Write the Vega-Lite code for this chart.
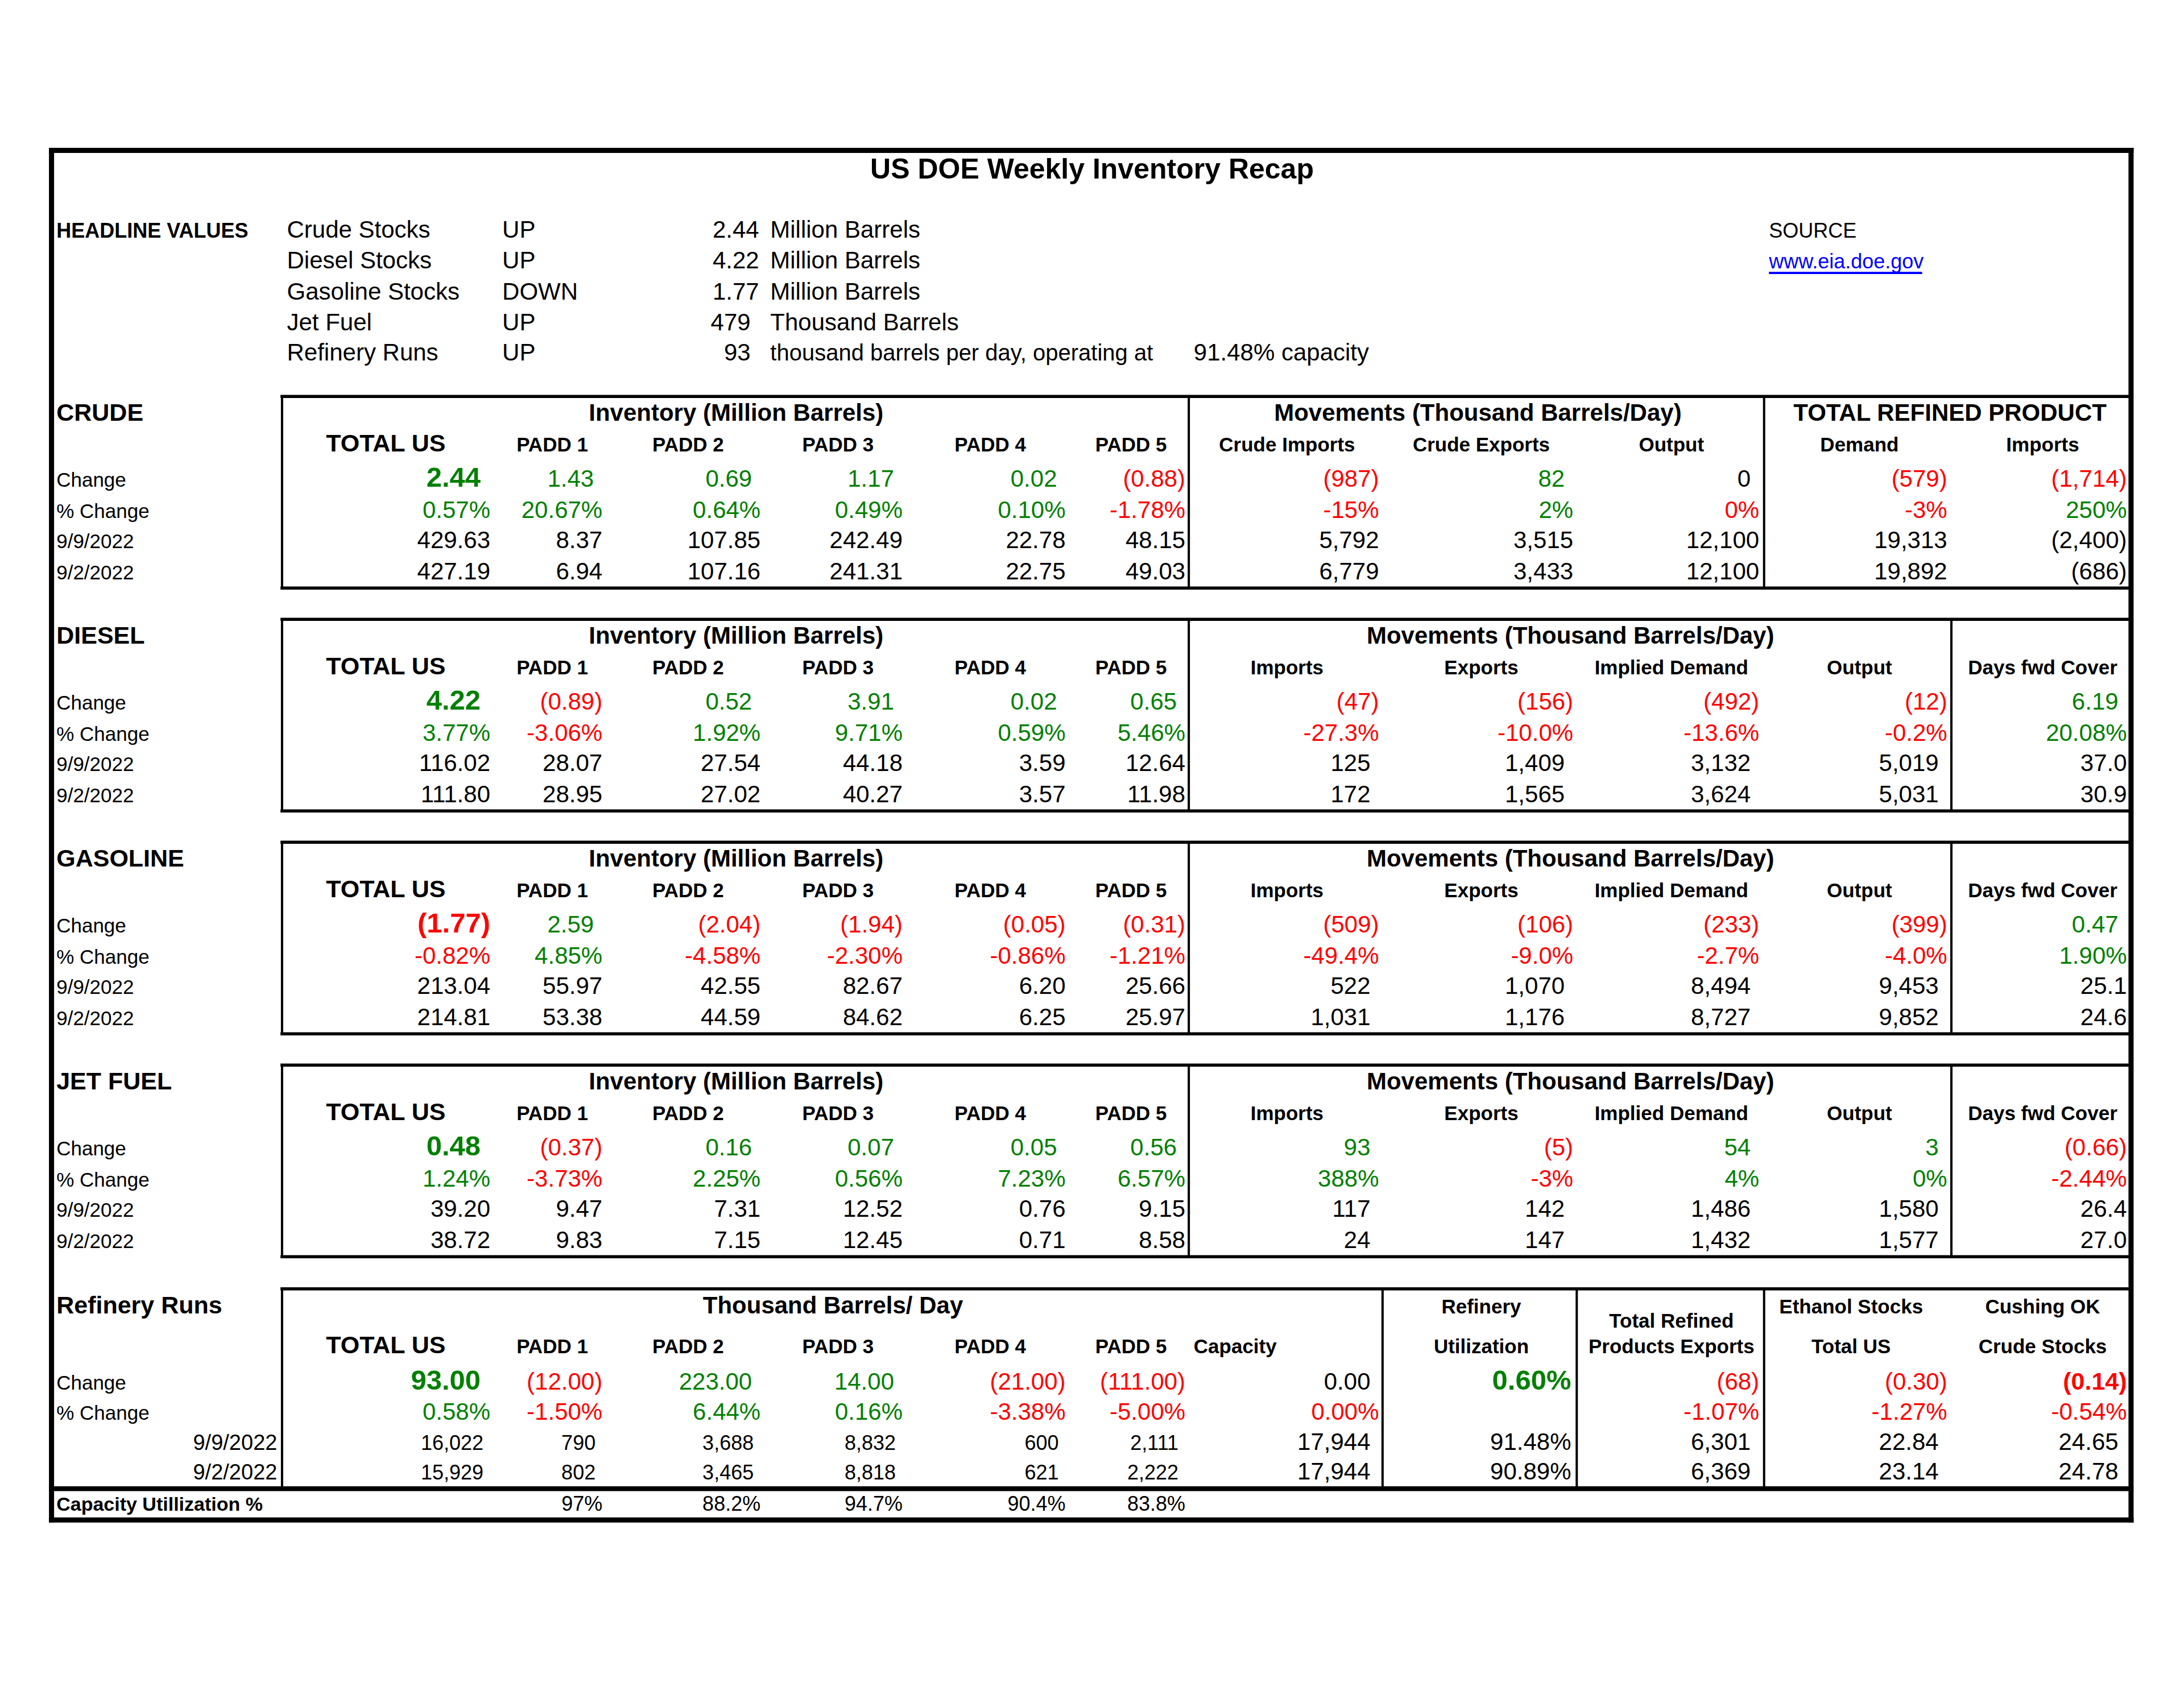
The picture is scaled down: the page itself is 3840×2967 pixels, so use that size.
{
"$schema": "https://vega.github.io/schema/vega-lite/v6.json",
"width": 3840, "height": 2967, "padding": 0, "autosize": {"type": "none"},
"background": "white",
"config": {"view": {"stroke": null}, "text": {"font": "Liberation Sans"}},
"datasets": {
"lines": [
{"x":0,"y":0,"x2":46,"y2":0,"kind":"frame"},
{"x":0,"y":50,"x2":46,"y2":50,"kind":"frame"},
{"x":0,"y":0,"x2":0,"y2":50,"kind":"frame"},
{"x":46,"y":0,"x2":46,"y2":50,"kind":"frame"},
{"x":3,"y":8,"x2":46,"y2":8,"kind":"box"},
{"x":3,"y":15,"x2":46,"y2":15,"kind":"box"},
{"x":3,"y":16,"x2":46,"y2":16,"kind":"box"},
{"x":3,"y":23,"x2":46,"y2":23,"kind":"box"},
{"x":3,"y":24,"x2":46,"y2":24,"kind":"box"},
{"x":3,"y":31,"x2":46,"y2":31,"kind":"box"},
{"x":3,"y":32,"x2":46,"y2":32,"kind":"box"},
{"x":3,"y":39,"x2":46,"y2":39,"kind":"box"},
{"x":3,"y":40,"x2":46,"y2":40,"kind":"box"},
{"x":3,"y":8,"x2":3,"y2":15,"kind":"div"},
{"x":23,"y":8,"x2":23,"y2":15,"kind":"div"},
{"x":36,"y":8,"x2":36,"y2":15,"kind":"div"},
{"x":3,"y":16,"x2":3,"y2":23,"kind":"div"},
{"x":23,"y":16,"x2":23,"y2":23,"kind":"div"},
{"x":43,"y":16,"x2":43,"y2":23,"kind":"div"},
{"x":3,"y":24,"x2":3,"y2":31,"kind":"div"},
{"x":23,"y":24,"x2":23,"y2":31,"kind":"div"},
{"x":43,"y":24,"x2":43,"y2":31,"kind":"div"},
{"x":3,"y":32,"x2":3,"y2":39,"kind":"div"},
{"x":23,"y":32,"x2":23,"y2":39,"kind":"div"},
{"x":43,"y":32,"x2":43,"y2":39,"kind":"div"},
{"x":3,"y":40,"x2":3,"y2":48,"kind":"div"},
{"x":27,"y":40,"x2":27,"y2":48,"kind":"div"},
{"x":33,"y":40,"x2":33,"y2":48,"kind":"div"},
{"x":36,"y":40,"x2":36,"y2":48,"kind":"div"},
{"x":0,"y":48,"x2":46,"y2":48,"kind":"base"},
{"x":37,"y":4,"x2":40,"y2":4,"kind":"link"}
],
"labs": [
{"x":20,"y":1,"t":"US DOE Weekly Inventory Recap","k":"title"},
{"x":1,"y":2,"t":"HEADLINE VALUES","k":"hv"},
{"x":4,"y":2,"t":"Crude Stocks","k":"hl"},
{"x":7,"y":2,"t":"UP","k":"hl"},
{"x":14,"y":2,"t":"Million Barrels","k":"hl"},
{"x":4,"y":3,"t":"Diesel Stocks","k":"hl"},
{"x":7,"y":3,"t":"UP","k":"hl"},
{"x":14,"y":3,"t":"Million Barrels","k":"hl"},
{"x":4,"y":5,"t":"Gasoline Stocks","k":"hl"},
{"x":7,"y":5,"t":"DOWN","k":"hl"},
{"x":14,"y":5,"t":"Million Barrels","k":"hl"},
{"x":4,"y":6,"t":"Jet Fuel","k":"hl"},
{"x":7,"y":6,"t":"UP","k":"hl"},
{"x":14,"y":6,"t":"Thousand Barrels","k":"hl"},
{"x":4,"y":7,"t":"Refinery Runs","k":"hl"},
{"x":7,"y":7,"t":"UP","k":"hl"},
{"x":14,"y":7,"t":"thousand barrels per day, operating at","k":"hls"},
{"x":24,"y":7,"t":"91.48% capacity","k":"hl"},
{"x":37,"y":2,"t":"SOURCE","k":"src"},
{"x":37,"y":3,"t":"www.eia.doe.gov","k":"link"},

{"x":1,"y":9,"t":"CRUDE","k":"sec"},
{"x":11,"y":9,"t":"Inventory (Million Barrels)","k":"grp"},
{"x":28,"y":9,"t":"Movements (Thousand Barrels/Day)","k":"grp"},
{"x":42,"y":9,"t":"TOTAL REFINED PRODUCT","k":"grp"},
{"x":5,"y":10,"t":"TOTAL US","k":"tu"},
{"x":8,"y":10,"t":"PADD 1","k":"ph"},
{"x":10,"y":10,"t":"PADD 2","k":"ph"},
{"x":16,"y":10,"t":"PADD 3","k":"ph"},
{"x":18,"y":10,"t":"PADD 4","k":"ph"},
{"x":21,"y":10,"t":"PADD 5","k":"ph"},
{"x":25,"y":10,"t":"Crude Imports","k":"ph"},
{"x":29,"y":10,"t":"Crude Exports","k":"ph"},
{"x":34,"y":10,"t":"Output","k":"ph"},
{"x":39,"y":10,"t":"Demand","k":"ph"},
{"x":44,"y":10,"t":"Imports","k":"ph"},
{"x":1,"y":11,"t":"Change","k":"lab"},
{"x":1,"y":12,"t":"% Change","k":"lab"},
{"x":1,"y":13,"t":"9/9/2022","k":"lab"},
{"x":1,"y":14,"t":"9/2/2022","k":"lab"},

{"x":1,"y":17,"t":"DIESEL","k":"sec"},
{"x":11,"y":17,"t":"Inventory (Million Barrels)","k":"grp"},
{"x":30,"y":17,"t":"Movements (Thousand Barrels/Day)","k":"grp"},
{"x":5,"y":18,"t":"TOTAL US","k":"tu"},
{"x":8,"y":18,"t":"PADD 1","k":"ph"},
{"x":10,"y":18,"t":"PADD 2","k":"ph"},
{"x":16,"y":18,"t":"PADD 3","k":"ph"},
{"x":18,"y":18,"t":"PADD 4","k":"ph"},
{"x":21,"y":18,"t":"PADD 5","k":"ph"},
{"x":25,"y":18,"t":"Imports","k":"ph"},
{"x":29,"y":18,"t":"Exports","k":"ph"},
{"x":34,"y":18,"t":"Implied Demand","k":"ph"},
{"x":39,"y":18,"t":"Output","k":"ph"},
{"x":44,"y":18,"t":"Days fwd Cover","k":"ph"},
{"x":1,"y":19,"t":"Change","k":"lab"},
{"x":1,"y":20,"t":"% Change","k":"lab"},
{"x":1,"y":21,"t":"9/9/2022","k":"lab"},
{"x":1,"y":22,"t":"9/2/2022","k":"lab"},

{"x":1,"y":25,"t":"GASOLINE","k":"sec"},
{"x":11,"y":25,"t":"Inventory (Million Barrels)","k":"grp"},
{"x":30,"y":25,"t":"Movements (Thousand Barrels/Day)","k":"grp"},
{"x":5,"y":26,"t":"TOTAL US","k":"tu"},
{"x":8,"y":26,"t":"PADD 1","k":"ph"},
{"x":10,"y":26,"t":"PADD 2","k":"ph"},
{"x":16,"y":26,"t":"PADD 3","k":"ph"},
{"x":18,"y":26,"t":"PADD 4","k":"ph"},
{"x":21,"y":26,"t":"PADD 5","k":"ph"},
{"x":25,"y":26,"t":"Imports","k":"ph"},
{"x":29,"y":26,"t":"Exports","k":"ph"},
{"x":34,"y":26,"t":"Implied Demand","k":"ph"},
{"x":39,"y":26,"t":"Output","k":"ph"},
{"x":44,"y":26,"t":"Days fwd Cover","k":"ph"},
{"x":1,"y":27,"t":"Change","k":"lab"},
{"x":1,"y":28,"t":"% Change","k":"lab"},
{"x":1,"y":29,"t":"9/9/2022","k":"lab"},
{"x":1,"y":30,"t":"9/2/2022","k":"lab"},

{"x":1,"y":33,"t":"JET FUEL","k":"sec"},
{"x":11,"y":33,"t":"Inventory (Million Barrels)","k":"grp"},
{"x":30,"y":33,"t":"Movements (Thousand Barrels/Day)","k":"grp"},
{"x":5,"y":34,"t":"TOTAL US","k":"tu"},
{"x":8,"y":34,"t":"PADD 1","k":"ph"},
{"x":10,"y":34,"t":"PADD 2","k":"ph"},
{"x":16,"y":34,"t":"PADD 3","k":"ph"},
{"x":18,"y":34,"t":"PADD 4","k":"ph"},
{"x":21,"y":34,"t":"PADD 5","k":"ph"},
{"x":25,"y":34,"t":"Imports","k":"ph"},
{"x":29,"y":34,"t":"Exports","k":"ph"},
{"x":34,"y":34,"t":"Implied Demand","k":"ph"},
{"x":39,"y":34,"t":"Output","k":"ph"},
{"x":44,"y":34,"t":"Days fwd Cover","k":"ph"},
{"x":1,"y":35,"t":"Change","k":"lab"},
{"x":1,"y":36,"t":"% Change","k":"lab"},
{"x":1,"y":37,"t":"9/9/2022","k":"lab"},
{"x":1,"y":38,"t":"9/2/2022","k":"lab"},

{"x":1,"y":41,"t":"Refinery Runs","k":"sec"},
{"x":15,"y":41,"t":"Thousand Barrels/ Day","k":"grp"},
{"x":29,"y":41,"t":"Refinery","k":"ph"},
{"x":29,"y":43,"t":"Utilization","k":"ph"},
{"x":34,"y":42,"t":"Total Refined","k":"ph"},
{"x":34,"y":43,"t":"Products Exports","k":"ph"},
{"x":38,"y":41,"t":"Ethanol Stocks","k":"ph"},
{"x":38,"y":43,"t":"Total US","k":"ph"},
{"x":44,"y":41,"t":"Cushing OK","k":"ph"},
{"x":44,"y":43,"t":"Crude Stocks","k":"ph"},
{"x":5,"y":43,"t":"TOTAL US","k":"tu"},
{"x":8,"y":43,"t":"PADD 1","k":"ph"},
{"x":10,"y":43,"t":"PADD 2","k":"ph"},
{"x":16,"y":43,"t":"PADD 3","k":"ph"},
{"x":18,"y":43,"t":"PADD 4","k":"ph"},
{"x":21,"y":43,"t":"PADD 5","k":"ph"},
{"x":24,"y":43,"t":"Capacity","k":"phl"},
{"x":1,"y":44,"t":"Change","k":"lab"},
{"x":1,"y":45,"t":"% Change","k":"lab"},
{"x":2,"y":46,"t":"9/9/2022","k":"dl"},
{"x":2,"y":47,"t":"9/2/2022","k":"dl"},
{"x":1,"y":49,"t":"Capacity Utillization %","k":"cu"}
],
"vals": [
{"x":12,"y":2,"t":"2.44","s":"neu","k":"n"},
{"x":12,"y":3,"t":"4.22","s":"neu","k":"n"},
{"x":12,"y":5,"t":"1.77","s":"neu","k":"n"},
{"x":12,"y":6,"t":"479","s":"neu","k":"na"},
{"x":12,"y":7,"t":"93","s":"neu","k":"na"},

{"x":6,"y":11,"t":"2.44","s":"pos","k":"ba"},
{"x":9,"y":11,"t":"1.43","s":"pos","k":"na"},
{"x":13,"y":11,"t":"0.69","s":"pos","k":"na"},
{"x":17,"y":11,"t":"1.17","s":"pos","k":"na"},
{"x":19,"y":11,"t":"0.02","s":"pos","k":"na"},
{"x":22,"y":11,"t":"(0.88)","s":"neg","k":"n"},
{"x":26,"y":11,"t":"(987)","s":"neg","k":"n"},
{"x":32,"y":11,"t":"82","s":"pos","k":"na"},
{"x":35,"y":11,"t":"0","s":"neu","k":"na"},
{"x":41,"y":11,"t":"(579)","s":"neg","k":"n"},
{"x":45,"y":11,"t":"(1,714)","s":"neg","k":"n"},
{"x":6,"y":12,"t":"0.57%","s":"pos","k":"n"},
{"x":9,"y":12,"t":"20.67%","s":"pos","k":"n"},
{"x":13,"y":12,"t":"0.64%","s":"pos","k":"n"},
{"x":17,"y":12,"t":"0.49%","s":"pos","k":"n"},
{"x":19,"y":12,"t":"0.10%","s":"pos","k":"n"},
{"x":22,"y":12,"t":"-1.78%","s":"neg","k":"n"},
{"x":26,"y":12,"t":"-15%","s":"neg","k":"n"},
{"x":32,"y":12,"t":"2%","s":"pos","k":"n"},
{"x":35,"y":12,"t":"0%","s":"neg","k":"n"},
{"x":41,"y":12,"t":"-3%","s":"neg","k":"n"},
{"x":45,"y":12,"t":"250%","s":"pos","k":"n"},
{"x":6,"y":13,"t":"429.63","s":"neu","k":"n"},
{"x":9,"y":13,"t":"8.37","s":"neu","k":"n"},
{"x":13,"y":13,"t":"107.85","s":"neu","k":"n"},
{"x":17,"y":13,"t":"242.49","s":"neu","k":"n"},
{"x":19,"y":13,"t":"22.78","s":"neu","k":"n"},
{"x":22,"y":13,"t":"48.15","s":"neu","k":"n"},
{"x":26,"y":13,"t":"5,792","s":"neu","k":"n"},
{"x":32,"y":13,"t":"3,515","s":"neu","k":"n"},
{"x":35,"y":13,"t":"12,100","s":"neu","k":"n"},
{"x":41,"y":13,"t":"19,313","s":"neu","k":"n"},
{"x":45,"y":13,"t":"(2,400)","s":"neu","k":"n"},
{"x":6,"y":14,"t":"427.19","s":"neu","k":"n"},
{"x":9,"y":14,"t":"6.94","s":"neu","k":"n"},
{"x":13,"y":14,"t":"107.16","s":"neu","k":"n"},
{"x":17,"y":14,"t":"241.31","s":"neu","k":"n"},
{"x":19,"y":14,"t":"22.75","s":"neu","k":"n"},
{"x":22,"y":14,"t":"49.03","s":"neu","k":"n"},
{"x":26,"y":14,"t":"6,779","s":"neu","k":"n"},
{"x":32,"y":14,"t":"3,433","s":"neu","k":"n"},
{"x":35,"y":14,"t":"12,100","s":"neu","k":"n"},
{"x":41,"y":14,"t":"19,892","s":"neu","k":"n"},
{"x":45,"y":14,"t":"(686)","s":"neu","k":"n"},

{"x":6,"y":19,"t":"4.22","s":"pos","k":"ba"},
{"x":9,"y":19,"t":"(0.89)","s":"neg","k":"n"},
{"x":13,"y":19,"t":"0.52","s":"pos","k":"na"},
{"x":17,"y":19,"t":"3.91","s":"pos","k":"na"},
{"x":19,"y":19,"t":"0.02","s":"pos","k":"na"},
{"x":22,"y":19,"t":"0.65","s":"pos","k":"na"},
{"x":26,"y":19,"t":"(47)","s":"neg","k":"n"},
{"x":32,"y":19,"t":"(156)","s":"neg","k":"n"},
{"x":35,"y":19,"t":"(492)","s":"neg","k":"n"},
{"x":41,"y":19,"t":"(12)","s":"neg","k":"n"},
{"x":45,"y":19,"t":"6.19","s":"pos","k":"na"},
{"x":6,"y":20,"t":"3.77%","s":"pos","k":"n"},
{"x":9,"y":20,"t":"-3.06%","s":"neg","k":"n"},
{"x":13,"y":20,"t":"1.92%","s":"pos","k":"n"},
{"x":17,"y":20,"t":"9.71%","s":"pos","k":"n"},
{"x":19,"y":20,"t":"0.59%","s":"pos","k":"n"},
{"x":22,"y":20,"t":"5.46%","s":"pos","k":"n"},
{"x":26,"y":20,"t":"-27.3%","s":"neg","k":"n"},
{"x":32,"y":20,"t":"-10.0%","s":"neg","k":"n"},
{"x":35,"y":20,"t":"-13.6%","s":"neg","k":"n"},
{"x":41,"y":20,"t":"-0.2%","s":"neg","k":"n"},
{"x":45,"y":20,"t":"20.08%","s":"pos","k":"n"},
{"x":6,"y":21,"t":"116.02","s":"neu","k":"n"},
{"x":9,"y":21,"t":"28.07","s":"neu","k":"n"},
{"x":13,"y":21,"t":"27.54","s":"neu","k":"n"},
{"x":17,"y":21,"t":"44.18","s":"neu","k":"n"},
{"x":19,"y":21,"t":"3.59","s":"neu","k":"n"},
{"x":22,"y":21,"t":"12.64","s":"neu","k":"n"},
{"x":26,"y":21,"t":"125","s":"neu","k":"na"},
{"x":32,"y":21,"t":"1,409","s":"neu","k":"na"},
{"x":35,"y":21,"t":"3,132","s":"neu","k":"na"},
{"x":41,"y":21,"t":"5,019","s":"neu","k":"na"},
{"x":45,"y":21,"t":"37.0","s":"neu","k":"n"},
{"x":6,"y":22,"t":"111.80","s":"neu","k":"n"},
{"x":9,"y":22,"t":"28.95","s":"neu","k":"n"},
{"x":13,"y":22,"t":"27.02","s":"neu","k":"n"},
{"x":17,"y":22,"t":"40.27","s":"neu","k":"n"},
{"x":19,"y":22,"t":"3.57","s":"neu","k":"n"},
{"x":22,"y":22,"t":"11.98","s":"neu","k":"n"},
{"x":26,"y":22,"t":"172","s":"neu","k":"na"},
{"x":32,"y":22,"t":"1,565","s":"neu","k":"na"},
{"x":35,"y":22,"t":"3,624","s":"neu","k":"na"},
{"x":41,"y":22,"t":"5,031","s":"neu","k":"na"},
{"x":45,"y":22,"t":"30.9","s":"neu","k":"n"},

{"x":6,"y":27,"t":"(1.77)","s":"neg","k":"b"},
{"x":9,"y":27,"t":"2.59","s":"pos","k":"na"},
{"x":13,"y":27,"t":"(2.04)","s":"neg","k":"n"},
{"x":17,"y":27,"t":"(1.94)","s":"neg","k":"n"},
{"x":19,"y":27,"t":"(0.05)","s":"neg","k":"n"},
{"x":22,"y":27,"t":"(0.31)","s":"neg","k":"n"},
{"x":26,"y":27,"t":"(509)","s":"neg","k":"n"},
{"x":32,"y":27,"t":"(106)","s":"neg","k":"n"},
{"x":35,"y":27,"t":"(233)","s":"neg","k":"n"},
{"x":41,"y":27,"t":"(399)","s":"neg","k":"n"},
{"x":45,"y":27,"t":"0.47","s":"pos","k":"na"},
{"x":6,"y":28,"t":"-0.82%","s":"neg","k":"n"},
{"x":9,"y":28,"t":"4.85%","s":"pos","k":"n"},
{"x":13,"y":28,"t":"-4.58%","s":"neg","k":"n"},
{"x":17,"y":28,"t":"-2.30%","s":"neg","k":"n"},
{"x":19,"y":28,"t":"-0.86%","s":"neg","k":"n"},
{"x":22,"y":28,"t":"-1.21%","s":"neg","k":"n"},
{"x":26,"y":28,"t":"-49.4%","s":"neg","k":"n"},
{"x":32,"y":28,"t":"-9.0%","s":"neg","k":"n"},
{"x":35,"y":28,"t":"-2.7%","s":"neg","k":"n"},
{"x":41,"y":28,"t":"-4.0%","s":"neg","k":"n"},
{"x":45,"y":28,"t":"1.90%","s":"pos","k":"n"},
{"x":6,"y":29,"t":"213.04","s":"neu","k":"n"},
{"x":9,"y":29,"t":"55.97","s":"neu","k":"n"},
{"x":13,"y":29,"t":"42.55","s":"neu","k":"n"},
{"x":17,"y":29,"t":"82.67","s":"neu","k":"n"},
{"x":19,"y":29,"t":"6.20","s":"neu","k":"n"},
{"x":22,"y":29,"t":"25.66","s":"neu","k":"n"},
{"x":26,"y":29,"t":"522","s":"neu","k":"na"},
{"x":32,"y":29,"t":"1,070","s":"neu","k":"na"},
{"x":35,"y":29,"t":"8,494","s":"neu","k":"na"},
{"x":41,"y":29,"t":"9,453","s":"neu","k":"na"},
{"x":45,"y":29,"t":"25.1","s":"neu","k":"n"},
{"x":6,"y":30,"t":"214.81","s":"neu","k":"n"},
{"x":9,"y":30,"t":"53.38","s":"neu","k":"n"},
{"x":13,"y":30,"t":"44.59","s":"neu","k":"n"},
{"x":17,"y":30,"t":"84.62","s":"neu","k":"n"},
{"x":19,"y":30,"t":"6.25","s":"neu","k":"n"},
{"x":22,"y":30,"t":"25.97","s":"neu","k":"n"},
{"x":26,"y":30,"t":"1,031","s":"neu","k":"na"},
{"x":32,"y":30,"t":"1,176","s":"neu","k":"na"},
{"x":35,"y":30,"t":"8,727","s":"neu","k":"na"},
{"x":41,"y":30,"t":"9,852","s":"neu","k":"na"},
{"x":45,"y":30,"t":"24.6","s":"neu","k":"n"},

{"x":6,"y":35,"t":"0.48","s":"pos","k":"ba"},
{"x":9,"y":35,"t":"(0.37)","s":"neg","k":"n"},
{"x":13,"y":35,"t":"0.16","s":"pos","k":"na"},
{"x":17,"y":35,"t":"0.07","s":"pos","k":"na"},
{"x":19,"y":35,"t":"0.05","s":"pos","k":"na"},
{"x":22,"y":35,"t":"0.56","s":"pos","k":"na"},
{"x":26,"y":35,"t":"93","s":"pos","k":"na"},
{"x":32,"y":35,"t":"(5)","s":"neg","k":"n"},
{"x":35,"y":35,"t":"54","s":"pos","k":"na"},
{"x":41,"y":35,"t":"3","s":"pos","k":"na"},
{"x":45,"y":35,"t":"(0.66)","s":"neg","k":"n"},
{"x":6,"y":36,"t":"1.24%","s":"pos","k":"n"},
{"x":9,"y":36,"t":"-3.73%","s":"neg","k":"n"},
{"x":13,"y":36,"t":"2.25%","s":"pos","k":"n"},
{"x":17,"y":36,"t":"0.56%","s":"pos","k":"n"},
{"x":19,"y":36,"t":"7.23%","s":"pos","k":"n"},
{"x":22,"y":36,"t":"6.57%","s":"pos","k":"n"},
{"x":26,"y":36,"t":"388%","s":"pos","k":"n"},
{"x":32,"y":36,"t":"-3%","s":"neg","k":"n"},
{"x":35,"y":36,"t":"4%","s":"pos","k":"n"},
{"x":41,"y":36,"t":"0%","s":"pos","k":"n"},
{"x":45,"y":36,"t":"-2.44%","s":"neg","k":"n"},
{"x":6,"y":37,"t":"39.20","s":"neu","k":"n"},
{"x":9,"y":37,"t":"9.47","s":"neu","k":"n"},
{"x":13,"y":37,"t":"7.31","s":"neu","k":"n"},
{"x":17,"y":37,"t":"12.52","s":"neu","k":"n"},
{"x":19,"y":37,"t":"0.76","s":"neu","k":"n"},
{"x":22,"y":37,"t":"9.15","s":"neu","k":"n"},
{"x":26,"y":37,"t":"117","s":"neu","k":"na"},
{"x":32,"y":37,"t":"142","s":"neu","k":"na"},
{"x":35,"y":37,"t":"1,486","s":"neu","k":"na"},
{"x":41,"y":37,"t":"1,580","s":"neu","k":"na"},
{"x":45,"y":37,"t":"26.4","s":"neu","k":"n"},
{"x":6,"y":38,"t":"38.72","s":"neu","k":"n"},
{"x":9,"y":38,"t":"9.83","s":"neu","k":"n"},
{"x":13,"y":38,"t":"7.15","s":"neu","k":"n"},
{"x":17,"y":38,"t":"12.45","s":"neu","k":"n"},
{"x":19,"y":38,"t":"0.71","s":"neu","k":"n"},
{"x":22,"y":38,"t":"8.58","s":"neu","k":"n"},
{"x":26,"y":38,"t":"24","s":"neu","k":"na"},
{"x":32,"y":38,"t":"147","s":"neu","k":"na"},
{"x":35,"y":38,"t":"1,432","s":"neu","k":"na"},
{"x":41,"y":38,"t":"1,577","s":"neu","k":"na"},
{"x":45,"y":38,"t":"27.0","s":"neu","k":"n"},

{"x":6,"y":44,"t":"93.00","s":"pos","k":"ba"},
{"x":9,"y":44,"t":"(12.00)","s":"neg","k":"n"},
{"x":13,"y":44,"t":"223.00","s":"pos","k":"na"},
{"x":17,"y":44,"t":"14.00","s":"pos","k":"na"},
{"x":19,"y":44,"t":"(21.00)","s":"neg","k":"n"},
{"x":22,"y":44,"t":"(111.00)","s":"neg","k":"n"},
{"x":26,"y":44,"t":"0.00","s":"neu","k":"na"},
{"x":31,"y":44,"t":"0.60%","s":"pos","k":"b"},
{"x":35,"y":44,"t":"(68)","s":"neg","k":"n"},
{"x":41,"y":44,"t":"(0.30)","s":"neg","k":"n"},
{"x":45,"y":44,"t":"(0.14)","s":"neg","k":"bm"},
{"x":6,"y":45,"t":"0.58%","s":"pos","k":"n"},
{"x":9,"y":45,"t":"-1.50%","s":"neg","k":"n"},
{"x":13,"y":45,"t":"6.44%","s":"pos","k":"n"},
{"x":17,"y":45,"t":"0.16%","s":"pos","k":"n"},
{"x":19,"y":45,"t":"-3.38%","s":"neg","k":"n"},
{"x":22,"y":45,"t":"-5.00%","s":"neg","k":"n"},
{"x":26,"y":45,"t":"0.00%","s":"neg","k":"n"},
{"x":35,"y":45,"t":"-1.07%","s":"neg","k":"n"},
{"x":41,"y":45,"t":"-1.27%","s":"neg","k":"n"},
{"x":45,"y":45,"t":"-0.54%","s":"neg","k":"n"},
{"x":6,"y":46,"t":"16,022","s":"neu","k":"sa"},
{"x":9,"y":46,"t":"790","s":"neu","k":"sa"},
{"x":13,"y":46,"t":"3,688","s":"neu","k":"sa"},
{"x":17,"y":46,"t":"8,832","s":"neu","k":"sa"},
{"x":19,"y":46,"t":"600","s":"neu","k":"sa"},
{"x":22,"y":46,"t":"2,111","s":"neu","k":"sa"},
{"x":26,"y":46,"t":"17,944","s":"neu","k":"na"},
{"x":31,"y":46,"t":"91.48%","s":"neu","k":"n"},
{"x":35,"y":46,"t":"6,301","s":"neu","k":"na"},
{"x":41,"y":46,"t":"22.84","s":"neu","k":"na"},
{"x":45,"y":46,"t":"24.65","s":"neu","k":"na"},
{"x":6,"y":47,"t":"15,929","s":"neu","k":"sa"},
{"x":9,"y":47,"t":"802","s":"neu","k":"sa"},
{"x":13,"y":47,"t":"3,465","s":"neu","k":"sa"},
{"x":17,"y":47,"t":"8,818","s":"neu","k":"sa"},
{"x":19,"y":47,"t":"621","s":"neu","k":"sa"},
{"x":22,"y":47,"t":"2,222","s":"neu","k":"sa"},
{"x":26,"y":47,"t":"17,944","s":"neu","k":"na"},
{"x":31,"y":47,"t":"90.89%","s":"neu","k":"n"},
{"x":35,"y":47,"t":"6,369","s":"neu","k":"na"},
{"x":41,"y":47,"t":"23.14","s":"neu","k":"na"},
{"x":45,"y":47,"t":"24.78","s":"neu","k":"na"},
{"x":9,"y":49,"t":"97%","s":"neu","k":"s"},
{"x":13,"y":49,"t":"88.2%","s":"neu","k":"s"},
{"x":17,"y":49,"t":"94.7%","s":"neu","k":"s"},
{"x":19,"y":49,"t":"90.4%","s":"neu","k":"s"},
{"x":22,"y":49,"t":"83.8%","s":"neu","k":"s"}
]
},
"encoding": {
"x": {"field": "x", "type": "quantitative", "axis": null,
 "scale": {"domain": [0,1,2,3,4,5,6,7,8,9,10,11,12,13,14,15,16,17,18,19,20,21,22,23,24,25,26,27,28,29,30,31,32,33,34,35,36,37,38,39,40,41,42,43,44,45,46],
 "range": [90.6,99.2,487.4,495.9,504.5,678.4,862.0,883.1,971.0,1059.2,1209.8,1294.3,1334.7,1337.2,1354.3,1464.5,1473.3,1587.0,1741.2,1873.5,1920.0,1988.6,2084.1,2090.2,2098.8,2262.9,2424.5,2430.9,2598.4,2604.5,2761.2,2762.5,2766.1,2772.3,2938.8,3093.1,3101.7,3110.2,3254.7,3269.4,3379.6,3423.7,3428.6,3431.0,3591.5,3739.6,3746.9],
 "zero": false, "nice": false}},
"y": {"field": "y", "type": "quantitative", "axis": null,
 "scale": {"domain": [0,1,2,3,4,5,6,7,8,9,10,11,12,13,14,15,16,17,18,19,20,21,22,23,24,25,26,27,28,29,30,31,32,33,34,35,36,37,38,39,40,41,42,43,44,45,46,47,48,49,50],
 "range": [264.5,314,418,472,480,526.5,580.5,634,697.3,740,794,856,910.7,963.7,1019,1034.3,1089.3,1132,1186,1248,1302.7,1355.7,1411,1426.3,1481.3,1524,1578,1640,1694.7,1747.7,1803,1818.3,1873.3,1916,1970,2032,2086.7,2139.7,2195,2210.3,2266.7,2309.5,2335,2380,2443.5,2497.3,2550,2602.3,2618.3,2656.7,2673.3],
 "zero": false, "nice": false}}
},
"layer": [
{"data": {"name": "lines"}, "transform": [{"filter": "datum.kind === 'frame'"}], "mark": {"type": "rule", "strokeWidth": 9, "color": "#000000", "strokeCap": "square"}, "encoding": {"x2": {"field": "x2"}, "y2": {"field": "y2"}}},
{"data": {"name": "lines"}, "transform": [{"filter": "datum.kind === 'box'"}], "mark": {"type": "rule", "strokeWidth": 5.5, "color": "#000000", "strokeCap": "square"}, "encoding": {"x2": {"field": "x2"}, "y2": {"field": "y2"}}},
{"data": {"name": "lines"}, "transform": [{"filter": "datum.kind === 'div'"}], "mark": {"type": "rule", "strokeWidth": 4, "color": "#000000"}, "encoding": {"x2": {"field": "x2"}, "y2": {"field": "y2"}}},
{"data": {"name": "lines"}, "transform": [{"filter": "datum.kind === 'base'"}], "mark": {"type": "rule", "strokeWidth": 8.5, "color": "#000000", "strokeCap": "square"}, "encoding": {"x2": {"field": "x2"}, "y2": {"field": "y2"}}},
{"data": {"name": "lines"}, "transform": [{"filter": "datum.kind === 'link'"}], "mark": {"type": "rule", "strokeWidth": 4, "color": "#0000ff"}, "encoding": {"x2": {"field": "x2"}, "y2": {"field": "y2"}}},

{"data": {"name": "labs"}, "transform": [{"filter": "datum.k === 'title'"}], "mark": {"type": "text", "align": "center", "baseline": "alphabetic", "fontSize": 50, "fontWeight": "bold", "color": "#000000"}, "encoding": {"text": {"field": "t"}}},
{"data": {"name": "labs"}, "transform": [{"filter": "datum.k === 'hv'"}], "mark": {"type": "text", "align": "left", "baseline": "alphabetic", "fontSize": 36, "fontWeight": "bold", "color": "#000000"}, "encoding": {"text": {"field": "t"}}},
{"data": {"name": "labs"}, "transform": [{"filter": "datum.k === 'hl'"}], "mark": {"type": "text", "align": "left", "baseline": "alphabetic", "fontSize": 42, "color": "#000000"}, "encoding": {"text": {"field": "t"}}},
{"data": {"name": "labs"}, "transform": [{"filter": "datum.k === 'hls'"}], "mark": {"type": "text", "align": "left", "baseline": "alphabetic", "fontSize": 40, "color": "#000000"}, "encoding": {"text": {"field": "t"}}},
{"data": {"name": "labs"}, "transform": [{"filter": "datum.k === 'src'"}], "mark": {"type": "text", "align": "left", "baseline": "alphabetic", "fontSize": 36, "color": "#000000"}, "encoding": {"text": {"field": "t"}}},
{"data": {"name": "labs"}, "transform": [{"filter": "datum.k === 'link'"}], "mark": {"type": "text", "align": "left", "baseline": "alphabetic", "fontSize": 36, "color": "#0000ff"}, "encoding": {"text": {"field": "t"}}},
{"data": {"name": "labs"}, "transform": [{"filter": "datum.k === 'sec'"}], "mark": {"type": "text", "align": "left", "baseline": "alphabetic", "fontSize": 43, "fontWeight": "bold", "color": "#000000"}, "encoding": {"text": {"field": "t"}}},
{"data": {"name": "labs"}, "transform": [{"filter": "datum.k === 'grp'"}], "mark": {"type": "text", "align": "center", "baseline": "alphabetic", "fontSize": 42, "fontWeight": "bold", "color": "#000000"}, "encoding": {"text": {"field": "t"}}},
{"data": {"name": "labs"}, "transform": [{"filter": "datum.k === 'tu'"}], "mark": {"type": "text", "align": "center", "baseline": "alphabetic", "fontSize": 43, "fontWeight": "bold", "color": "#000000"}, "encoding": {"text": {"field": "t"}}},
{"data": {"name": "labs"}, "transform": [{"filter": "datum.k === 'ph'"}], "mark": {"type": "text", "align": "center", "baseline": "alphabetic", "fontSize": 35, "fontWeight": "bold", "color": "#000000"}, "encoding": {"text": {"field": "t"}}},
{"data": {"name": "labs"}, "transform": [{"filter": "datum.k === 'phl'"}], "mark": {"type": "text", "align": "left", "baseline": "alphabetic", "fontSize": 35, "fontWeight": "bold", "color": "#000000"}, "encoding": {"text": {"field": "t"}}},
{"data": {"name": "labs"}, "transform": [{"filter": "datum.k === 'lab'"}], "mark": {"type": "text", "align": "left", "baseline": "alphabetic", "fontSize": 35, "color": "#000000"}, "encoding": {"text": {"field": "t"}}},
{"data": {"name": "labs"}, "transform": [{"filter": "datum.k === 'dl'"}], "mark": {"type": "text", "align": "right", "baseline": "alphabetic", "fontSize": 38, "color": "#000000"}, "encoding": {"text": {"field": "t"}}},
{"data": {"name": "labs"}, "transform": [{"filter": "datum.k === 'cu'"}], "mark": {"type": "text", "align": "left", "baseline": "alphabetic", "fontSize": 34, "fontWeight": "bold", "color": "#000000"}, "encoding": {"text": {"field": "t"}}},

{"data": {"name": "vals"}, "transform": [{"filter": "datum.k === 'n'"}], "mark": {"type": "text", "align": "right", "baseline": "alphabetic", "fontSize": 42}, "encoding": {"text": {"field": "t"}, "color": {"field": "s", "type": "nominal", "legend": null, "scale": {"domain": ["pos","neg","neu"], "range": ["#008000","#ff0000","#000000"]}}}},
{"data": {"name": "vals"}, "transform": [{"filter": "datum.k === 'na'"}], "mark": {"type": "text", "align": "right", "baseline": "alphabetic", "fontSize": 42, "dx": -15}, "encoding": {"text": {"field": "t"}, "color": {"field": "s", "type": "nominal", "legend": null}}},
{"data": {"name": "vals"}, "transform": [{"filter": "datum.k === 's'"}], "mark": {"type": "text", "align": "right", "baseline": "alphabetic", "fontSize": 36}, "encoding": {"text": {"field": "t"}, "color": {"field": "s", "type": "nominal", "legend": null}}},
{"data": {"name": "vals"}, "transform": [{"filter": "datum.k === 'sa'"}], "mark": {"type": "text", "align": "right", "baseline": "alphabetic", "fontSize": 36, "dx": -12}, "encoding": {"text": {"field": "t"}, "color": {"field": "s", "type": "nominal", "legend": null}}},
{"data": {"name": "vals"}, "transform": [{"filter": "datum.k === 'b'"}], "mark": {"type": "text", "align": "right", "baseline": "alphabetic", "fontSize": 49, "fontWeight": "bold"}, "encoding": {"text": {"field": "t"}, "color": {"field": "s", "type": "nominal", "legend": null}}},
{"data": {"name": "vals"}, "transform": [{"filter": "datum.k === 'ba'"}], "mark": {"type": "text", "align": "right", "baseline": "alphabetic", "fontSize": 49, "fontWeight": "bold", "dx": -17}, "encoding": {"text": {"field": "t"}, "color": {"field": "s", "type": "nominal", "legend": null}}},
{"data": {"name": "vals"}, "transform": [{"filter": "datum.k === 'bm'"}], "mark": {"type": "text", "align": "right", "baseline": "alphabetic", "fontSize": 43, "fontWeight": "bold"}, "encoding": {"text": {"field": "t"}, "color": {"field": "s", "type": "nominal", "legend": null}}}
]
}
